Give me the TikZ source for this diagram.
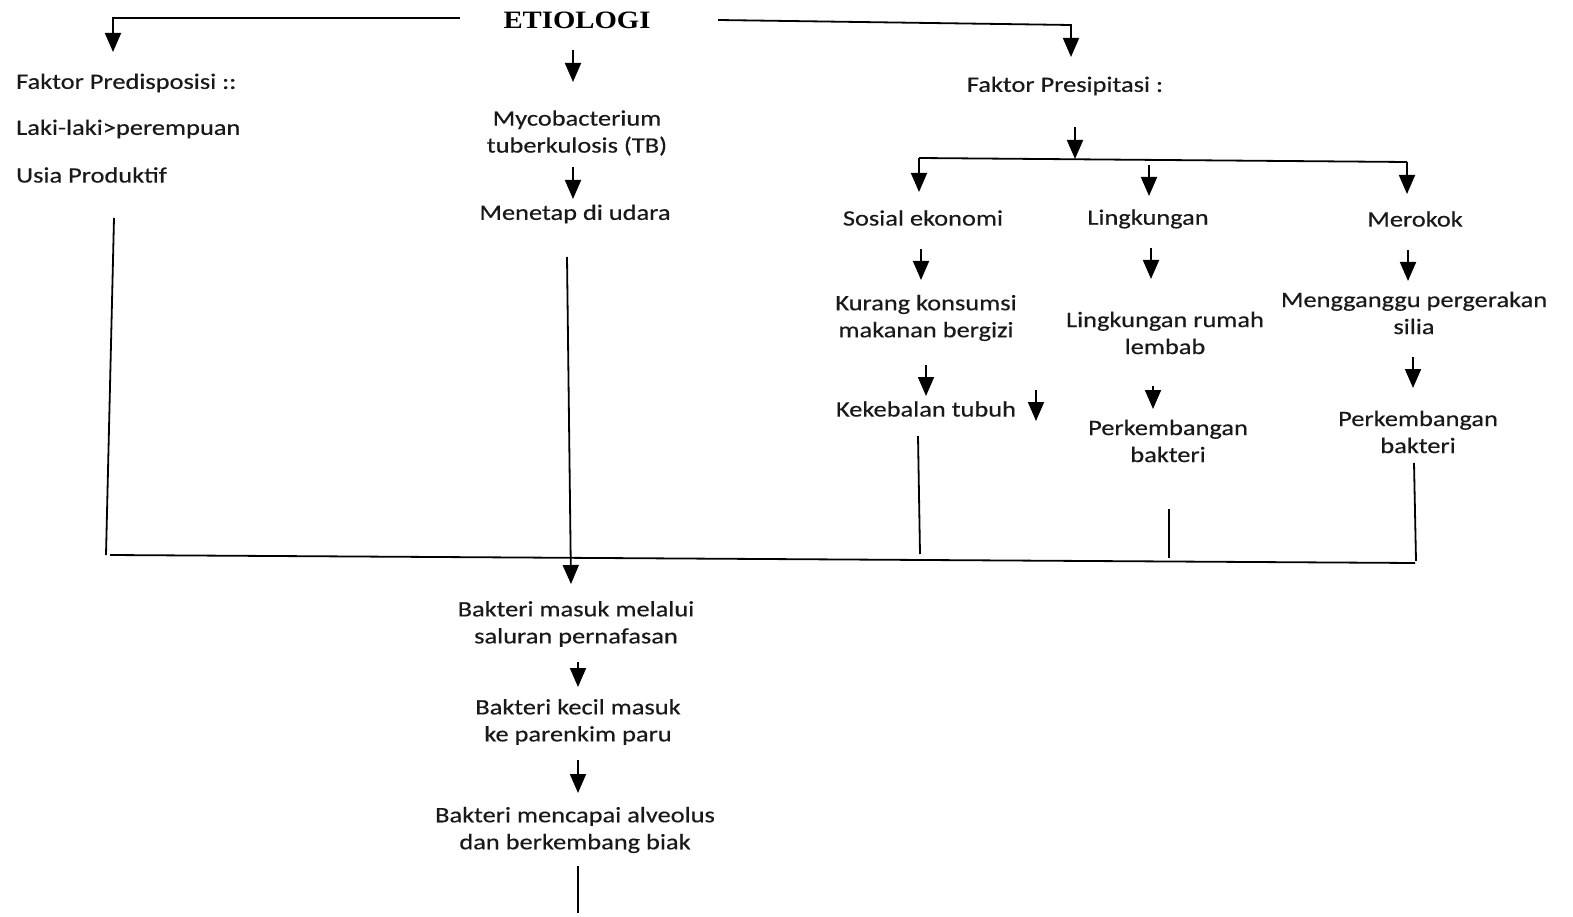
\documentclass[tikz,border=0pt]{standalone}
\usepackage{fontspec}
\setmainfont{Carlito}[FakeStretch=1.2,FakeBold=0.4]
\newfontfamily\titlefont{Liberation Serif}[FakeStretch=1.15]
\usetikzlibrary{arrows.meta}
\begin{document}
\begin{tikzpicture}[x=1pt,y=-1pt,
  txt/.style={font=\fontsize{22}{27}\selectfont, text=black!90, align=center, inner sep=0pt},
  ln/.style={line width=1.8pt, draw=black},
  arr/.style={ln, -{Triangle[length=19pt,width=16pt]}}]
\useasboundingbox (0,0) rectangle (1573,917);
% title
\node[font=\titlefont\bfseries\fontsize{25}{28}\selectfont, inner sep=0pt] (etio) at (577,20) {ETIOLOGI};
% left column
\node[txt, anchor=west] (fpre) at (16,83) {Faktor Predisposisi ::};
\node[txt, anchor=west] (laki) at (16,129) {Laki-laki>perempuan};
\node[txt, anchor=west] (usia) at (16,175) {Usia Produktif};
% middle column
\node[txt] (myco) at (577,133) {Mycobacterium\\tuberkulosis (TB)};
\node[txt] (mene) at (575,214) {Menetap di udara};
\node[txt] (bmas) at (576,624) {Bakteri masuk melalui\\saluran pernafasan};
\node[txt] (bkec) at (578,722) {Bakteri kecil masuk\\ke parenkim paru};
\node[txt] (bmen) at (575,830) {Bakteri mencapai alveolus\\dan berkembang biak};
% right part
\node[txt] (fpres) at (1065,86) {Faktor Presipitasi :};
\node[txt] (sos) at (923,218) {Sosial ekonomi};
\node[txt] (ling) at (1148,219) {Lingkungan};
\node[txt] (mer) at (1415,219) {Merokok};
\node[txt] (kur) at (926,318) {Kurang konsumsi\\makanan bergizi};
\node[txt] (lrum) at (1165,333) {Lingkungan rumah\\lembab};
\node[txt] (meng) at (1414,313) {Mengganggu pergerakan\\silia};
\node[txt] (keke) at (926,409) {Kekebalan tubuh};
\node[txt] (perk1) at (1168,441) {Perkembangan\\bakteri};
\node[txt] (perk2) at (1418,432) {Perkembangan\\bakteri};
% coordinates
\coordinate (tl1) at (460,18);
\coordinate (tl2) at (113,18);
\coordinate (tl3) at (113,52);
\coordinate (tr1) at (718,20);
\coordinate (tr2) at (1071,25);
\coordinate (tr3) at (1071,57);
\coordinate (tm1) at (573,50);
\coordinate (tm2) at (573,82);
\coordinate (m1) at (573,167);
\coordinate (m2) at (573,199);
\coordinate (lv1) at (114,218);
\coordinate (lv2) at (106,555);
\coordinate (mv1) at (567,257);
\coordinate (mv2) at (571,584);
\coordinate (bh1) at (110,555);
\coordinate (bh2) at (1415,563);
\coordinate (p1) at (1075,127);
\coordinate (p2) at (1075,159);
\coordinate (ph1) at (919,158);
\coordinate (ph2) at (1407,162);
\coordinate (sa) at (919,192);
\coordinate (lb1) at (1149,165);
\coordinate (lb2) at (1149,196);
\coordinate (ma) at (1407,194);
\coordinate (s1) at (921,249);
\coordinate (s2) at (921,280);
\coordinate (l1) at (1151,248);
\coordinate (l2) at (1151,279);
\coordinate (r1) at (1408,250);
\coordinate (r2) at (1408,281);
\coordinate (k1) at (926,365);
\coordinate (k2) at (926,396);
\coordinate (x1) at (1036,390);
\coordinate (x2) at (1036,421);
\coordinate (q1) at (1153,386);
\coordinate (q2) at (1153,409);
\coordinate (g1) at (1413,357);
\coordinate (g2) at (1413,388);
\coordinate (v1a) at (918,436);
\coordinate (v1b) at (920,554);
\coordinate (v2a) at (1169,509);
\coordinate (v2b) at (1169,558);
\coordinate (v3a) at (1414,463);
\coordinate (v3b) at (1416,561);
\coordinate (b1) at (578,662);
\coordinate (b2) at (578,687);
\coordinate (c1) at (578,760);
\coordinate (c2) at (578,793);
\coordinate (e1) at (578,866);
\coordinate (e2) at (578,913);
% connectors
\draw[arr] (tl1) -- (tl2) -- (tl3);
\draw[arr] (tr1) -- (tr2) -- (tr3);
\draw[arr] (tm1) -- (tm2);
\draw[arr] (m1) -- (m2);
\draw[ln] (lv1) -- (lv2);
\draw[arr] (mv1) -- (mv2);
\draw[ln] (bh1) -- (bh2);
\draw[arr] (p1) -- (p2);
\draw[ln] (ph1) -- (ph2);
\draw[arr] (ph1) -- (sa);
\draw[arr] (lb1) -- (lb2);
\draw[arr] (ph2) -- (ma);
\draw[arr] (s1) -- (s2);
\draw[arr] (l1) -- (l2);
\draw[arr] (r1) -- (r2);
\draw[arr] (k1) -- (k2);
\draw[arr] (x1) -- (x2);
\draw[arr] (q1) -- (q2);
\draw[arr] (g1) -- (g2);
\draw[ln] (v1a) -- (v1b);
\draw[ln] (v2a) -- (v2b);
\draw[ln] (v3a) -- (v3b);
\draw[arr] (b1) -- (b2);
\draw[arr] (c1) -- (c2);
\draw[ln] (e1) -- (e2);
\end{tikzpicture}
\end{document}
